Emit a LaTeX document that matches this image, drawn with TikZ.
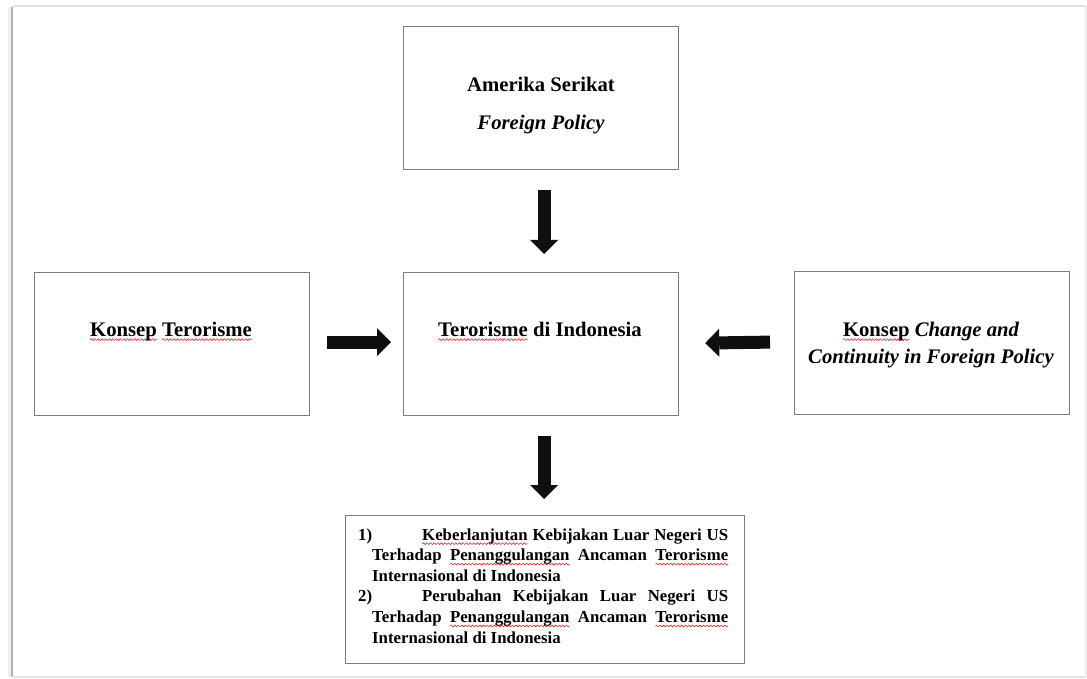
\documentclass[tikz,border=0pt]{standalone}
\usepackage{fontspec}
\setmainfont{Liberation Serif}
\usetikzlibrary{arrows.meta,calc,decorations.pathmorphing}
\definecolor{spellred}{RGB}{215,45,45}
\definecolor{boxgray}{RGB}{125,125,125}
\definecolor{arrowblack}{RGB}{15,15,15}
\newcommand\sperr[1]{\setbox0\hbox{#1}\rlap{\tikz[overlay,baseline=0pt,x=1pt,y=1pt]\draw[spellred,line width=0.6pt,decorate,decoration={snake,amplitude=0.9pt,segment length=3.6pt}] (0,-3.6) -- (\the\wd0,-3.6);}\box0\relax}
\begin{document}
\begin{tikzpicture}[x=1pt,y=-1pt,
  box/.style={draw=boxgray,line width=1.2pt,minimum width=275pt,minimum height=143pt,inner sep=0pt,anchor=north west},
  lbl/.style={font=\fontsize{20.7}{27}\selectfont\bfseries,inner sep=0pt,anchor=base},
  blockarrow/.style={draw=arrowblack,line width=13pt,-{Triangle[length=14pt,width=28pt,line width=0pt]}}
]
\useasboundingbox (0,0) rectangle (1087,679);
\fill[white] (0,0) rectangle (1087,679);
% page frame / shadow
\fill[gray!12] (8,7) rectangle (11,677);
\draw[gray!60,line width=2pt] (12,7) -- (12,677);
\draw[gray!22,line width=2pt] (12,6) -- (1086,6);
\draw[gray!22,line width=2pt] (12,677) -- (1086,677);
\draw[gray!15,line width=1.5pt] (1086,6) -- (1086,677);

% boxes
\node[box] (top) at (403,26) {};
\node[box] (left) at (34,272) {};
\node[box] (mid) at (403,272) {};
\node[box] (right) at (794,271) {};
\node[box,minimum width=399pt,minimum height=148pt] (bot) at (345,515) {};

% texts
\node[lbl] (toptxt1) at (541,92) {Amerika Serikat};
\node[lbl] (toptxt2) at (541,130) {\itshape Foreign Policy};
\node[lbl] (lefttxt) at (171,336) {\sperr{Konsep} \sperr{Terorisme}};
\node[lbl] (midtxt) at (540,336) {\sperr{Terorisme} di Indonesia};
\node[lbl] (righttxt1) at (931,336) {\sperr{Konsep} \itshape Change and};
\node[lbl] (righttxt2) at (931,363) {\itshape Continuity in Foreign Policy};
\node[anchor=base west,inner sep=0pt] (bottxt) at (358,540) {\parbox[t]{370pt}{\fontsize{16.8}{20.6}\selectfont\bfseries
\hyphenpenalty=10000 \tolerance=10000
\noindent\hangindent=14pt\hangafter=1 \makebox[64pt][l]{1)}\sperr{Keberlanjutan} Kebijakan Luar Negeri US\linebreak Terhadap \sperr{Penanggulangan} Ancaman \sperr{Terorisme}\linebreak Internasional di Indonesia\par
\noindent\hangindent=14pt\hangafter=1 \makebox[64pt][l]{2)}Perubahan Kebijakan Luar Negeri US\linebreak Terhadap \sperr{Penanggulangan} Ancaman \sperr{Terorisme}\linebreak Internasional di Indonesia\par}};

% arrows
\draw[blockarrow] ($(top.south)+(3,20)$) -- ($(mid.north)+(3,-18)$);
\draw[blockarrow] ($(left.east)+(17,-2)$) -- ($(mid.west)+(-12,-2)$);
\draw[blockarrow] ($(right.west)+(-24,-1)$) -- ($(mid.east)+(26,-1)$);
\draw[blockarrow] ($(mid.south)+(3,20)$) -- ($(mid.south |- bot.north)+(3,-16)$);
\end{tikzpicture}
\end{document}
